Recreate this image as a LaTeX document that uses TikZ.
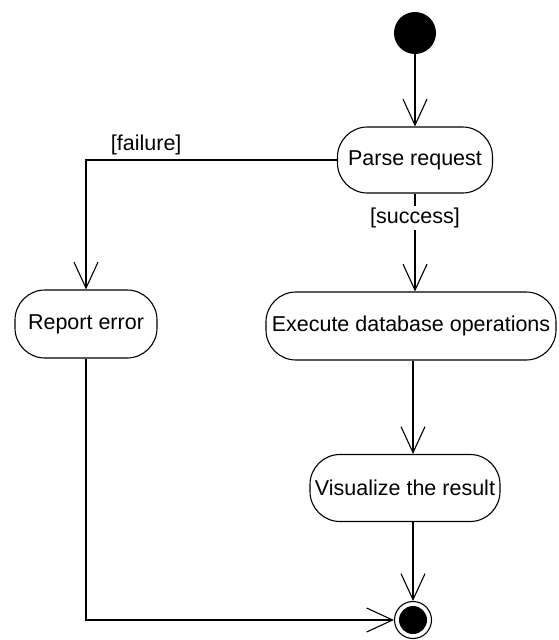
\documentclass[tikz,border=0pt]{standalone}
\usepackage{fontspec}
\setmainfont{Liberation Sans}
\usetikzlibrary{arrows.meta}
\begin{document}
\begin{tikzpicture}[x=1pt,y=1pt,
  act/.style={draw, line width=1.1pt, rounded corners=30pt, fill=white,
    inner sep=0pt, font=\fontsize{21.5}{26}\selectfont},
  flow/.style={draw, line width=1.1pt, -{Straight Barb[length=26pt,width=24pt,line width=1.1pt]}},
  guard/.style={font=\fontsize{21.5}{26}\selectfont, inner sep=2pt}]
\useasboundingbox (0,0) rectangle (558,-640);
\node[circle, fill=black, minimum size=42pt, inner sep=0pt] (start) at (415,-33) {};
\node[act, minimum width=155pt, minimum height=66pt] (parse) at (415,-160) {Parse request};
\node[act, minimum width=142pt, minimum height=68pt] (report) at (86,-324) {Report error};
\node[act, minimum width=290pt, minimum height=68pt] (exec) at (411,-326) {Execute database operations};
\node[act, minimum width=190pt, minimum height=67pt] (vis) at (405,-488) {Visualize the result};
\node[circle, draw, line width=1.1pt, minimum size=37pt, inner sep=0pt] (end) at (413,-620) {};
\fill (end.center) circle (14pt);
\draw[flow] (start) -- (start |- parse.north);
\draw[flow] (parse.south) -- node[guard, fill=white, pos=0.25] {[success]} (parse.south |- exec.north);
\draw[flow] (parse.west) -| node[guard, pos=0.38, above=2pt] {[failure]} (report.north);
\draw[flow] (exec.south -| end) -- (end |- vis.north);
\draw[flow] (vis.south -| end) -- (end.north);
\draw[flow] (report.south) |- (end.west);
\end{tikzpicture}
\end{document}
